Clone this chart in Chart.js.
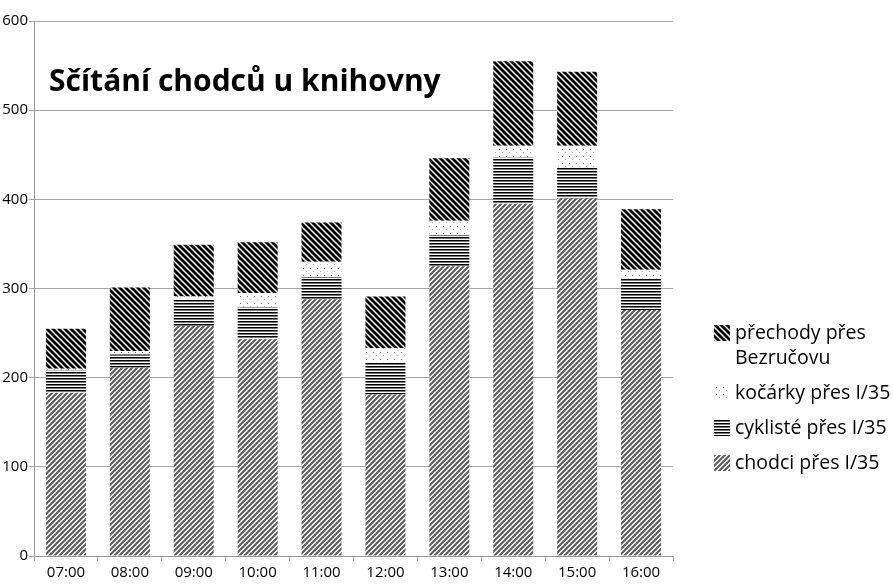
<!DOCTYPE html>
<html lang="cs">
<head>
    <meta charset="UTF-8">
    <title>Sčítání chodců u knihovny</title>
    <script src="https://cdn.jsdelivr.net/npm/chart.js"></script>
    <style>
        html, body { margin: 0; padding: 0; background: #fff; }
        #wrap { width: 893px; height: 585px; }
    </style>
</head>
<body>
    <div id="wrap"><canvas id="chart" width="893" height="585"></canvas></div>
    <script>
        const hours = ["07:00", "08:00", "09:00", "10:00", "11:00", "12:00", "13:00", "14:00", "15:00", "16:00"];
        const chodci = [183, 211, 258, 243, 288, 181, 325, 395, 401, 276];
        const cyklisti = [25, 15, 30, 36, 25, 36, 35, 52, 35, 35];
        const kocarky = [2, 4, 3, 16, 17, 16, 16, 13, 24, 10];
        const prechody = [45, 71, 58, 57, 44, 58, 70, 95, 83, 68];

        const titleText = "Sčítání chodců u knihovny";
        const fontName = "'Open Sans', 'Noto Sans', sans-serif";

        function makeTile(w, h, draw) {
            const c = document.createElement("canvas");
            c.width = w; c.height = h;
            const g = c.getContext("2d");
            g.fillStyle = "#fff";
            g.fillRect(0, 0, w, h);
            draw(g);
            return document.getElementById("chart").getContext("2d").createPattern(c, "repeat");
        }

        // diagonal stripes; dir 1 = up to the right, -1 = down to the right
        function stripes(g, size, width, color, dir) {
            g.strokeStyle = color;
            g.lineWidth = width;
            g.beginPath();
            for (let k = -1; k <= 1; k++) {
                const o = k * size;
                if (dir > 0) { g.moveTo(o - 1, size + 1); g.lineTo(o + size + 1, -1); }
                else { g.moveTo(o - 1, -1); g.lineTo(o + size + 1, size + 1); }
            }
            g.stroke();
        }

        const patChodci = makeTile(5, 5, g => stripes(g, 5, 2.1, "#5a5a5a", 1));
        const patCykl = makeTile(3, 3, g => {
            g.fillStyle = "#000";
            g.fillRect(0, 0, 3, 1);
            g.fillStyle = "#777";
            g.fillRect(0, 1, 3, 1);
        });
        const patKoc = makeTile(7, 7, g => {
            g.fillStyle = "#666";
            g.fillRect(2, 2, 1, 1);
            g.fillStyle = "#aaa";
            g.fillRect(5, 5, 1, 1);
        });
        const patPrech = makeTile(6, 6, g => stripes(g, 6, 2.8, "#000", -1));

        const legendItems = [
            { lines: ["přechody přes", "Bezručovu"], pat: patPrech },
            { lines: ["kočárky přes I/35"], pat: patKoc },
            { lines: ["cyklisté přes I/35"], pat: patCykl },
            { lines: ["chodci přes I/35"], pat: patChodci }
        ];

        const extras = {
            id: "extras",
            afterDraw(chart) {
                const ctx = chart.ctx;
                ctx.save();
                // title sits inside the plot area
                ctx.fillStyle = "#000";
                ctx.font = "bold 30px " + fontName;
                ctx.textBaseline = "alphabetic";
                ctx.textAlign = "left";
                ctx.fillText(titleText, 49, 91);
                // legend on the right
                ctx.font = "19.5px " + fontName;
                ctx.textBaseline = "middle";
                let y = 333;
                legendItems.forEach(item => {
                    ctx.fillStyle = item.pat;
                    ctx.fillRect(714, y - 8, 16, 16);
                    ctx.fillStyle = "#000";
                    item.lines.forEach((t, i) => ctx.fillText(t, 735, y + i * 25));
                    y += (item.lines.length - 1) * 25 + 35;
                });
                ctx.restore();
            }
        };

        new Chart(document.getElementById("chart"), {
            type: "bar",
            data: {
                labels: hours,
                datasets: [
                    { label: "chodci přes I/35", data: chodci, backgroundColor: patChodci },
                    { label: "cyklisté přes I/35", data: cyklisti, backgroundColor: patCykl },
                    { label: "kočárky přes I/35", data: kocarky, backgroundColor: patKoc },
                    { label: "přechody přes Bezručovu", data: prechody, backgroundColor: patPrech }
                ]
            },
            options: {
                responsive: false,
                animation: false,
                layout: { padding: { left: 0, right: 220, top: 21, bottom: 0 } },
                datasets: { bar: { categoryPercentage: 1, barPercentage: 0.626, borderWidth: 0 } },
                plugins: {
                    legend: { display: false },
                    title: { display: false },
                    tooltip: { enabled: false }
                },
                scales: {
                    x: {
                        stacked: true,
                        grid: { offset: true, drawOnChartArea: false, drawTicks: true, tickLength: 5, color: "#999" },
                        border: { color: "#999" },
                        ticks: { color: "#000", font: { family: fontName, size: 15 }, padding: 3 },
                        afterFit(s) { s.height = 29; }
                    },
                    y: {
                        stacked: true,
                        min: 0, max: 600,
                        grid: { color: "#a6a6a6", tickLength: 5 },
                        border: { color: "#999" },
                        ticks: { stepSize: 100, color: "#000", font: { family: fontName, size: 15 }, padding: 1 },
                        afterFit(s) { s.width = 34; }
                    }
                }
            },
            plugins: [extras]
        });
    </script>
</body>
</html>
